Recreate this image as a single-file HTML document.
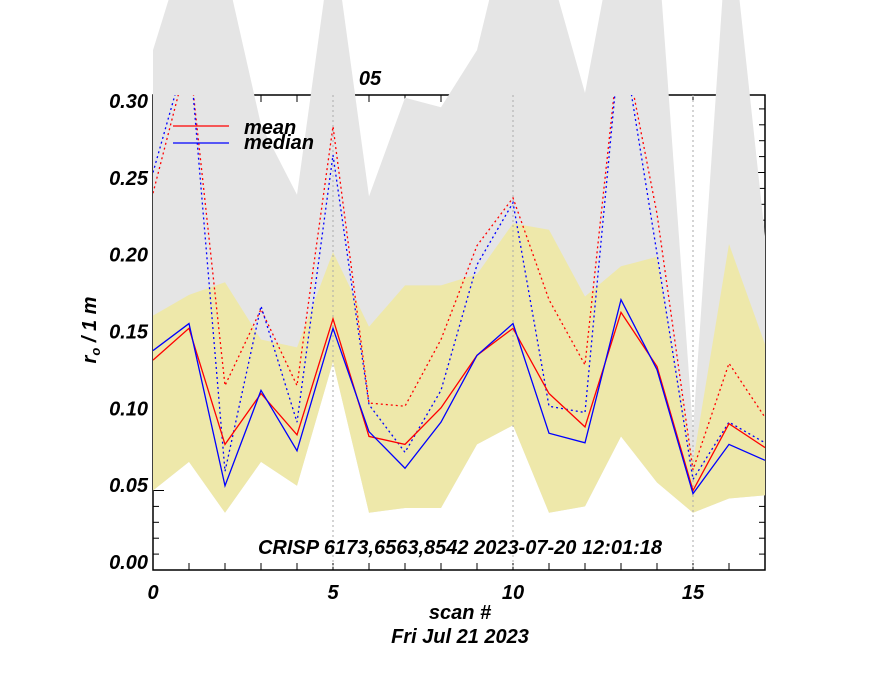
<!DOCTYPE html>
<html><head><meta charset="utf-8"><style>
body{margin:0;background:#fff}
svg text{font-family:"Liberation Sans",sans-serif;font-weight:bold;font-style:italic;fill:#000}
</style></head><body>
<svg width="880" height="680" viewBox="0 0 880 680" id="c">
<defs><clipPath id="clip"><rect x="153" y="95" width="612" height="475"/></clipPath></defs>
<g id="axes"></g>
<g id="bands"></g>
<g id="lines" clip-path="url(#clip)"></g>
<g id="labels"></g>
</svg>
<script>
const scans=[0,1,2,3,4,5,6,7,8,9,10,11,12,13,14,15,16,17];
const meanVals=[0.132,0.152,0.079,0.111,0.085,0.158,0.084,0.079,0.102,0.135,0.152,0.111,0.090,0.162,0.128,0.050,0.092,0.077];
const medianVals=[0.138,0.155,0.053,0.113,0.075,0.152,0.087,0.064,0.093,0.135,0.155,0.086,0.080,0.170,0.126,0.048,0.079,0.069];
const meanUpper=[0.237,0.325,0.116,0.164,0.116,0.279,0.105,0.103,0.145,0.204,0.234,0.170,0.129,0.34,0.224,0.063,0.130,0.096];
const medianUpper=[0.250,0.33,0.062,0.166,0.093,0.261,0.104,0.074,0.113,0.192,0.231,0.103,0.099,0.34,0.199,0.057,0.093,0.080];
const yellowHi=[0.160,0.173,0.181,0.145,0.140,0.200,0.153,0.179,0.179,0.186,0.218,0.214,0.172,0.191,0.197,0.068,0.205,0.142];
const yellowLo=[0.050,0.068,0.036,0.068,0.053,0.131,0.036,0.039,0.039,0.079,0.091,0.036,0.040,0.084,0.055,0.036,0.045,0.047];
const grayHi=[0.327,0.40,0.38,0.28,0.236,0.40,0.235,0.297,0.291,0.327,0.42,0.38,0.30,0.42,0.40,0.088,0.42,0.21];
const xTicks=[0,5,10,15];
const yTicks=[0.00,0.05,0.10,0.15,0.20,0.25,0.30];
const X=v=>153+v*36, Y=v=>570-v*1590;
const NS="http://www.w3.org/2000/svg";
function mk(t,a,p){const e=document.createElementNS(NS,t);for(const k in a)e.setAttribute(k,a[k]);p.appendChild(e);return e;}
const ax=document.getElementById('axes'),bd=document.getElementById('bands'),ln=document.getElementById('lines'),lb=document.getElementById('labels');
let fr=mk('rect',{x:153,y:95,width:612,height:475,fill:'none',stroke:'#000','stroke-width':1.5},ax);

for(let i=0;i<=17;i++){mk('line',{x1:X(i),x2:X(i),y1:570,y2:563,stroke:'#000'},ax);mk('line',{x1:X(i),x2:X(i),y1:95,y2:102,stroke:'#000'},ax);}
for(let k=0;k<=29;k++){const v=k/100,L=(k%5==0)?11:6;mk('line',{x1:153,x2:153+L,y1:Y(v),y2:Y(v),stroke:'#000'},ax);mk('line',{x1:765,x2:765-L,y1:Y(v),y2:Y(v),stroke:'#000'},ax);}
const ptsG=scans.map((s,i)=>X(s)+','+Y(grayHi[i])).concat(scans.slice().reverse().map(s=>X(s)+','+Y(yellowLo[s])));
let g=mk('polygon',{points:ptsG.join(' '),fill:'#e5e5e5'},bd);

const ptsY=scans.map((s,i)=>X(s)+','+Y(yellowHi[i])).concat(scans.slice().reverse().map(s=>X(s)+','+Y(yellowLo[s])));
let yb=mk('polygon',{points:ptsY.join(' '),fill:'#eee8aa'},bd);

xTicks.slice(1).forEach(v=>{let l=mk('line',{x1:X(v),x2:X(v),y1:95,y2:570,stroke:'#aaa','stroke-dasharray':'2,3'},ln);
});
function path(vals,col,dash,name){const d=vals.map((v,i)=>(i?'L':'M')+X(scans[i])+','+Y(v)).join(' ');
const a={d:d,fill:'none',stroke:col,'stroke-width':1.3};if(dash)a['stroke-dasharray']='2,3';
let p=mk('path',a,ln);}
path(meanUpper,'#f00',true,'mean-upper-line');
path(medianUpper,'#00f',true,'median-upper-line');
path(meanVals,'#f00',false,'mean-line');
path(medianVals,'#00f',false,'median-line');
function tx(s,x,y,o){const e=mk('text',Object.assign({x:x,y:y,'font-size':20},o||{}),lb);e.textContent=s;return e;}
xTicks.forEach(v=>{let t=tx(String(v),X(v),599,{'text-anchor':'middle'});});
yTicks.forEach(v=>{let t=tx(v.toFixed(2),148,Y(v)-8+v*53+7,{'text-anchor':'end'});});
let t1=tx('05',370,85,{'text-anchor':'middle'});
let t2=tx('scan #',460,619,{'text-anchor':'middle'});
let t3=tx('Fri Jul 21 2023',460,643,{'text-anchor':'middle'});
let t4=tx('CRISP 6173,6563,8542 2023-07-20 12:01:18',460,554,{'text-anchor':'middle'});
let yt=mk('text',{x:0,y:0,'font-size':20,'text-anchor':'middle',transform:'translate(96,330) rotate(-90)'},lb);
yt.innerHTML='r<tspan font-size="13" dy="4">o</tspan><tspan dy="-4"> / 1 m</tspan>';

let l1=mk('line',{x1:173,x2:229,y1:126,y2:126,stroke:'#f00','stroke-width':1.3},lb);

let l2=mk('line',{x1:173,x2:229,y1:143,y2:143,stroke:'#00f','stroke-width':1.3},lb);

let lt1=tx('mean',244,134);
let lt2=tx('median',244,149);
</script>
</body></html>
